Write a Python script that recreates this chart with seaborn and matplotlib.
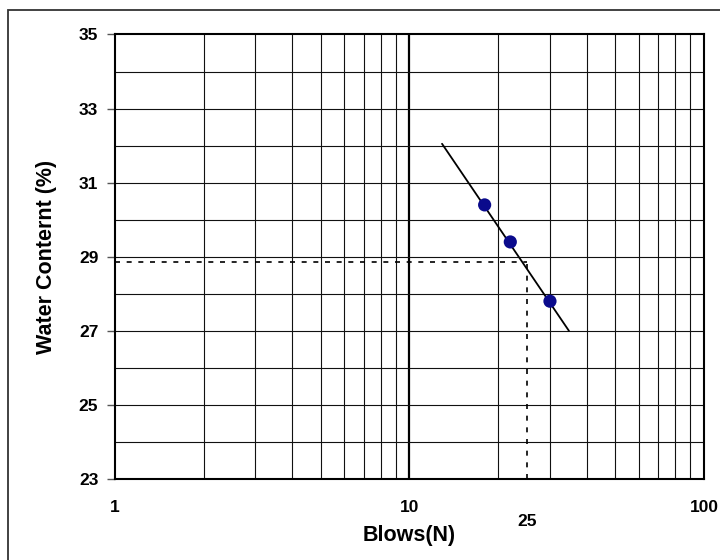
import matplotlib
matplotlib.use("Agg")
import matplotlib.pyplot as plt
import matplotlib.patches as mpatches
import seaborn as sns
import pandas as pd

# liquid limit test data
blows = [18, 22, 30]
water_content = [30.4, 29.4, 27.8]

# flow curve end points
fit_blows = [12.9, 34.8]
fit_water = [32.05, 27.0]

# liquid limit read at 25 blows
ll_blows = 25
ll_water = 28.85

y_ticks = [23, 25, 27, 29, 31, 33, 35]
x_ticks = [1, 10, 100]

sns.set_style("white")
plt.rcParams['font.family'] = ['Liberation Sans', 'DejaVu Sans']
plt.rcParams['font.weight'] = 'bold'
plt.rcParams['text.color'] = 'black'
plt.rcParams['axes.labelcolor'] = 'black'
plt.rcParams['xtick.labelcolor'] = 'black'
plt.rcParams['ytick.labelcolor'] = 'black'

fig = plt.figure(figsize=(7.2, 5.6), dpi=100)
ax = fig.add_axes([0.1597, 0.1446, 0.818, 0.7938])

# outer frame (only left and top edges fall inside the image)
fig.patches.append(mpatches.Rectangle((7.5 / 720, -0.05), 1.0, 0.05 + (560 - 9.5) / 560,
                                      transform=fig.transFigure, fill=False,
                                      edgecolor="#333333", linewidth=1.3))

ax.set_xscale("log")
ax.set_xlim(1, 100)
ax.set_ylim(23, 35)

# grid
minor_x = [2, 3, 4, 5, 6, 7, 8, 9, 20, 30, 40, 50, 60, 70, 80, 90]
for v in minor_x:
    ax.axvline(v, color="#111111", linewidth=0.8, zorder=1)
ax.axvline(10, color="black", linewidth=1.6, zorder=1)
for v in range(24, 35):
    ax.axhline(v, color="#111111", linewidth=0.8, zorder=1)

# dashed guide lines to liquid limit
ax.plot([1, ll_blows], [ll_water, ll_water], color="black", linestyle=(0, (3, 4)), linewidth=1.2, zorder=2)
ax.plot([ll_blows, ll_blows], [23, ll_water], color="black", linestyle=(0, (3, 4)), linewidth=1.2, zorder=2)

fit_df = pd.DataFrame({"N": fit_blows, "w": fit_water})
sns.lineplot(data=fit_df, x="N", y="w", color="black", linewidth=1.3, ax=ax, zorder=3)

pts = pd.DataFrame({"N": blows, "w": water_content})
sns.scatterplot(data=pts, x="N", y="w", color="#0a0a8c", s=90, edgecolor="none", ax=ax, zorder=4)

ax.set_yticks(y_ticks)
ax.set_yticklabels([str(v) for v in y_ticks], fontsize=12.5, fontweight="bold")
ax.set_xticks(x_ticks)
ax.set_xticklabels([str(v) for v in x_ticks], fontsize=12.5, fontweight="bold")
ax.minorticks_off()
ax.tick_params(axis="y", length=6, width=1, color="#555555", pad=6, left=True, labelcolor="black")
ax.tick_params(axis="x", length=0, pad=15, labelcolor="black")

ax.annotate(str(ll_blows), xy=(ll_blows, 0), xycoords=("data", "axes fraction"),
            xytext=(0, -25), textcoords="offset points", ha="center", va="top",
            fontsize=12.5, fontweight="bold", color="black")

ax.set_xlabel("Blows(N)", fontsize=15.5, fontweight="bold", labelpad=7, color="black")
ax.set_ylabel("Water Conternt (%)", fontsize=15.5, fontweight="bold", labelpad=16, color="black")

for s in ax.spines.values():
    s.set_color("black")
    s.set_linewidth(1.5)

fig.savefig("out.png", dpi=100)
